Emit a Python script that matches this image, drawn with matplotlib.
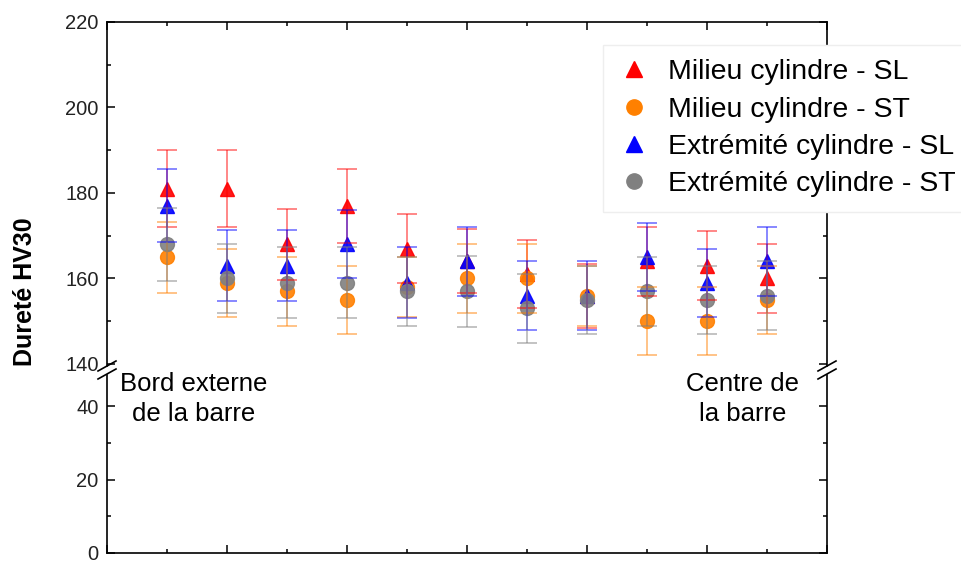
import matplotlib
matplotlib.use("Agg")
import matplotlib.pyplot as plt
from matplotlib.ticker import MultipleLocator
from matplotlib.lines import Line2D

plt.rcParams['font.family'] = ['Liberation Sans', 'DejaVu Sans']

positions = list(range(1, 12))
labels = ["Milieu cylindre - SL", "Milieu cylindre - ST",
          "Extrémité cylindre - SL", "Extrémité cylindre - ST"]
milieu_sl = [181, 181, 168, 177, 167, 164, 161, 156, 164, 163, 160]
milieu_sl_err = [9, 9, 8.3, 8.6, 8, 7.5, 8, 7.5, 8, 8, 8]
milieu_st = [165, 159, 157, 155, 158, 160, 160, 156, 150, 150, 155]
milieu_st_err = [8.3, 8, 8, 8, 7, 8, 8, 7, 8, 8, 8]
extr_sl = [177, 163, 163, 168, 159, 164, 156, 156, 165, 159, 164]
extr_sl_err = [8.5, 8.3, 8.3, 8, 8.3, 8, 8, 8, 8, 8, 8]
extr_st = [168, 160, 159, 159, 157, 157, 153, 155, 157, 155, 156]
extr_st_err = [8.5, 8, 8.3, 8.3, 8, 8.3, 8, 8, 8, 8, 8]

series = [
    (milieu_sl, milieu_sl_err, '#ff0000', '^'),
    (milieu_st, milieu_st_err, '#ff8000', 'o'),
    (extr_sl, extr_sl_err, '#0000ff', '^'),
    (extr_st, extr_st_err, '#808080', 'o'),
]

W, H = 962, 563
fig = plt.figure(figsize=(W / 100, H / 100), dpi=100)
left, right = 107 / W, 827 / W
ax_top = fig.add_axes([left, 1 - 366 / H, right - left, (366 - 22) / H])
ax_bot = fig.add_axes([left, 1 - 553 / H, right - left, (553 - 375) / H])

for vals, errs, col, mk in series:
    ax_top.plot(positions, vals, linestyle='none', marker=mk, color=col,
                markersize=10.5 if mk == '^' else 10, alpha=0.9, zorder=2)
for vals, errs, col, mk in series:
    ax_top.errorbar(positions, vals, yerr=errs, fmt='none', ecolor=col,
                    elinewidth=1.2, capsize=7, capthick=1.2, alpha=0.55, zorder=3)

ax_top.set_ylim(140 - 2 / 4.275, 220)
ax_bot.set_ylim(0, 178 / 3.67)
for ax in (ax_top, ax_bot):
    ax.set_xlim(0, 12)
    ax.xaxis.set_major_locator(MultipleLocator(2))
    ax.xaxis.set_minor_locator(MultipleLocator(1))
    ax.yaxis.set_major_locator(MultipleLocator(20))
    ax.yaxis.set_minor_locator(MultipleLocator(10))
    ax.tick_params(which='both', direction='in', right=True, width=1.1,
                   labelsize=14.5, labelcolor='#222222', pad=6)
    ax.tick_params(which='major', length=6)
    ax.tick_params(which='minor', length=3)
    ax.set_xticklabels([])
    ax.set_xticklabels([], minor=True)
    for s in ax.spines.values():
        s.set_linewidth(1.2)

ax_top.spines['bottom'].set_visible(False)
ax_top.tick_params(which='both', bottom=False, top=True)
ax_bot.spines['top'].set_visible(False)
ax_bot.tick_params(which='both', top=False, bottom=True)
ax_bot.set_yticks([0, 20, 40])

# break marks
for xb in (107, 827):
    for yb in (366, 374):
        fig.add_artist(Line2D([(xb - 9) / W, (xb + 9) / W],
                              [1 - (yb + 5) / H, 1 - (yb - 5) / H],
                              color='black', lw=1.2))

fig.text(25 / W, 1 - 292 / H, "Dureté HV30", rotation=90, fontsize=18,
         fontweight='bold', ha='center', va='center')
fig.text(194 / W, 1 - 399 / H, "Bord externe\nde la barre",
         fontsize=18.5, ha='center', va='center', linespacing=1.3)
fig.text(743 / W, 1 - 399 / H, "Centre de\nla barre",
         fontsize=18.5, ha='center', va='center', linespacing=1.3)

handles = [Line2D([], [], linestyle='none', marker=mk, color=col, markersize=11)
           for _, _, col, mk in series]
leg = ax_top.legend(handles, labels, loc='upper left',
                    bbox_to_anchor=(603 / W, 1 - 45 / H),
                    bbox_transform=fig.transFigure, fontsize=20.5,
                    frameon=True, fancybox=False, framealpha=1,
                    edgecolor='#eeeeee', labelspacing=0.4,
                    handletextpad=0.6, borderpad=0.5, handlelength=1.2,
                    borderaxespad=0)
leg.set_zorder(10)

fig.savefig("out.png", dpi=100)
